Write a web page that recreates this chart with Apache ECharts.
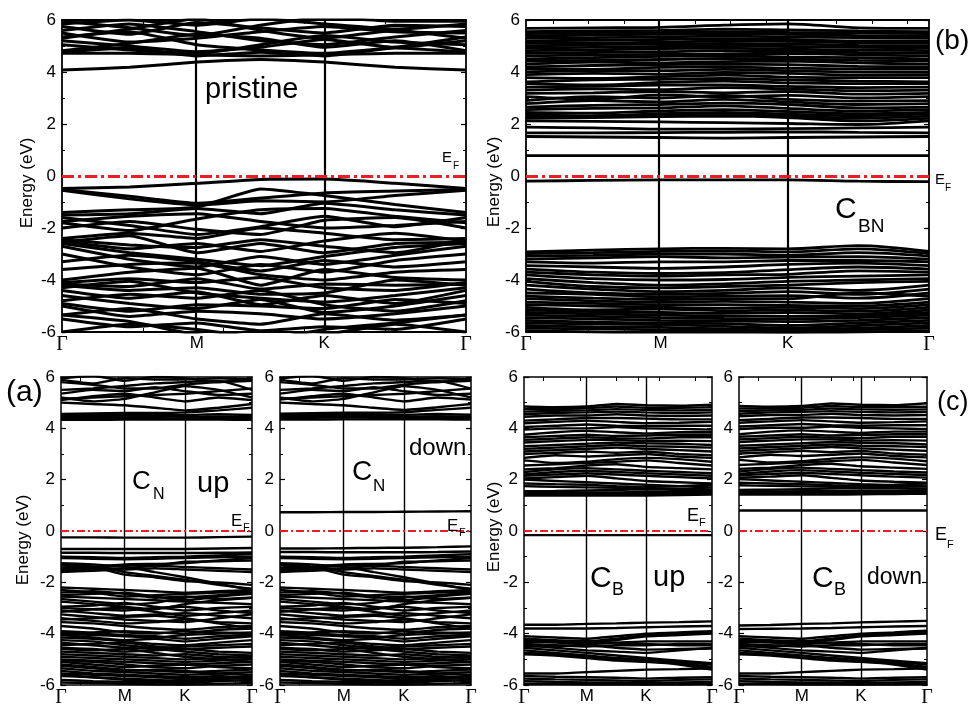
<!DOCTYPE html>
<html><head><meta charset="utf-8">
<script src="https://cdn.jsdelivr.net/npm/echarts@6/dist/echarts.min.js"></script>
<style>html,body{margin:0;padding:0;background:#fff}#c{width:971px;height:708px}</style>
</head><body><div id="c"></div>
<script>
// k-path sample positions: Γ, mid, M, mid, K, mid, Γ
const kPath = [0, 0.167, 0.334, 0.4915, 0.649, 0.8245, 1];
const kTickPos = [0, 0.334, 0.649, 1];
const kTickLabels = ['Γ', 'M', 'K', 'Γ'];
const energyTicks = [-6, -4, -2, 0, 2, 4, 6];
const fermiLevel = 0;

const bandsPristine = [
  [4.08, 4.18, 4.38, 4.48, 4.38, 4.18, 4.08],
  [4.72, 4.72, 4.66, 4.62, 4.66, 4.72, 4.72],
  [4.76, 4.92, 4.62, 4.76, 4.62, 4.92, 4.76],
  [5.20, 5.00, 4.78, 4.95, 5.25, 4.95, 5.20],
  [5.35, 5.55, 5.05, 4.85, 4.72, 4.95, 5.35],
  [5.50, 5.15, 5.30, 5.55, 5.75, 5.55, 5.50],
  [5.60, 5.85, 5.55, 5.20, 5.05, 5.35, 5.60],
  [5.75, 5.45, 5.90, 5.70, 5.50, 5.80, 5.75],
  [5.85, 6.00, 5.80, 6.05, 5.85, 5.65, 5.85],
  [5.95, 5.70, 5.40, 5.80, 6.10, 5.95, 5.95],
  [5.30, 5.65, 6.05, 5.60, 5.30, 5.60, 5.30],
  [4.82, 5.10, 5.45, 5.30, 4.95, 5.20, 4.82],
  [5.05, 4.85, 4.70, 5.05, 5.40, 5.15, 5.05],
  [-0.48, -0.42, -0.28, -0.13, -0.12, -0.28, -0.48],
  [-0.52, -0.78, -1.05, -0.85, -0.65, -0.58, -0.52],
  [-0.55, -0.88, -1.12, -0.95, -1.00, -0.75, -0.55],
  [-1.40, -1.30, -1.20, -0.50, -0.75, -1.10, -1.40],
  [-1.50, -1.45, -1.25, -1.45, -1.05, -1.30, -1.50],
  [-1.75, -1.55, -1.45, -1.75, -2.00, -1.90, -1.75],
  [-1.80, -2.10, -1.65, -1.30, -1.25, -1.55, -1.80],
  [-2.00, -1.75, -2.05, -2.25, -1.70, -1.60, -2.00],
  [-1.60, -1.90, -2.25, -1.95, -1.55, -1.95, -1.60],
  [-2.40, -2.20, -2.40, -2.00, -2.20, -2.45, -2.40],
  [-2.50, -2.80, -2.60, -2.90, -2.50, -2.20, -2.50],
  [-2.55, -2.30, -2.95, -2.60, -2.95, -2.60, -2.55],
  [-2.60, -2.95, -3.20, -3.45, -3.10, -2.75, -2.60],
  [-2.70, -3.20, -3.50, -3.10, -3.40, -3.05, -2.70],
  [-2.45, -2.65, -2.75, -2.45, -2.70, -2.95, -2.45],
  [-3.00, -3.50, -3.80, -3.40, -3.70, -3.25, -3.00],
  [-3.30, -3.05, -3.30, -3.65, -3.25, -3.50, -3.30],
  [-3.60, -3.40, -3.35, -3.80, -4.00, -3.70, -3.60],
  [-4.00, -3.70, -3.55, -4.20, -3.60, -3.90, -4.00],
  [-4.10, -3.95, -4.10, -3.90, -4.30, -4.40, -4.10],
  [-4.15, -4.25, -3.95, -4.35, -4.15, -4.20, -4.15],
  [-4.20, -4.40, -4.30, -4.55, -4.50, -4.00, -4.20],
  [-4.30, -4.05, -4.50, -4.70, -4.85, -4.60, -4.30],
  [-4.40, -4.70, -4.45, -4.95, -4.60, -4.90, -4.40],
  [-4.80, -4.55, -4.70, -4.40, -4.95, -5.20, -4.80],
  [-4.90, -5.20, -4.95, -5.00, -5.10, -4.75, -4.90],
  [-4.60, -4.90, -5.10, -4.75, -5.25, -5.00, -4.60],
  [-5.00, -5.40, -5.20, -5.30, -5.50, -5.30, -5.00],
  [-5.35, -5.10, -5.50, -5.70, -5.30, -5.55, -5.35],
  [-5.50, -5.80, -5.65, -5.95, -5.80, -5.90, -5.50],
  [-6.00, -5.70, -5.90, -6.20, -6.10, -5.70, -6.00],
  [-5.35, -5.60, -6.10, -6.30, -5.90, -5.65, -5.35]
];

const bandsCBN = [
  [0.78, 0.78, 0.78, 0.78, 0.78, 0.78, 0.78],
  [1.52, 1.50, 1.48, 1.46, 1.48, 1.50, 1.52],
  [1.66, 1.66, 1.67, 1.68, 1.70, 1.68, 1.66],
  [1.88, 1.85, 1.80, 1.80, 1.82, 1.85, 1.88],
  [2.12, 2.10, 2.08, 2.05, 2.02, 1.98, 2.12],
  [2.22, 2.25, 2.28, 2.30, 2.25, 2.12, 2.22],
  [2.30, 2.32, 2.35, 2.38, 2.30, 2.22, 2.30],
  [2.38, 2.30, 2.40, 2.45, 2.38, 2.32, 2.38],
  [2.45, 2.42, 2.50, 2.55, 2.48, 2.40, 2.45],
  [2.55, 2.60, 2.62, 2.70, 2.60, 2.50, 2.55],
  [2.65, 2.72, 2.75, 2.80, 2.75, 2.62, 2.65],
  [2.78, 2.90, 2.85, 2.95, 2.85, 2.75, 2.78],
  [2.90, 3.05, 3.00, 3.10, 2.95, 2.88, 2.90],
  [3.05, 2.95, 3.12, 3.05, 3.10, 3.00, 3.05],
  [3.18, 3.20, 3.25, 3.20, 3.25, 3.15, 3.18],
  [3.30, 3.35, 3.32, 3.40, 3.35, 3.28, 3.30],
  [3.42, 3.45, 3.50, 3.50, 3.45, 3.40, 3.42],
  [3.55, 3.50, 3.60, 3.65, 3.58, 3.55, 3.55],
  [3.62, 3.70, 3.72, 3.75, 3.70, 3.65, 3.62],
  [3.78, 3.75, 3.82, 3.88, 3.80, 3.78, 3.78],
  [3.90, 3.95, 3.92, 3.98, 3.95, 3.88, 3.90],
  [4.00, 4.05, 4.05, 4.10, 4.05, 4.00, 4.00],
  [4.12, 4.10, 4.18, 4.20, 4.15, 4.12, 4.12],
  [4.20, 4.25, 4.28, 4.30, 4.28, 4.22, 4.20],
  [4.30, 4.38, 4.35, 4.40, 4.42, 4.35, 4.30],
  [4.42, 4.45, 4.48, 4.52, 4.50, 4.45, 4.42],
  [4.50, 4.55, 4.60, 4.62, 4.58, 4.55, 4.50],
  [4.62, 4.65, 4.68, 4.70, 4.72, 4.66, 4.62],
  [4.72, 4.75, 4.78, 4.82, 4.80, 4.75, 4.72],
  [4.82, 4.85, 4.90, 4.92, 4.88, 4.85, 4.82],
  [4.92, 4.95, 4.98, 5.00, 4.98, 4.95, 4.92],
  [5.00, 5.05, 5.08, 5.10, 5.08, 5.02, 5.00],
  [5.10, 5.12, 5.15, 5.20, 5.18, 5.12, 5.10],
  [5.20, 5.22, 5.25, 5.28, 5.25, 5.20, 5.20],
  [5.30, 5.32, 5.35, 5.38, 5.35, 5.32, 5.30],
  [5.38, 5.42, 5.45, 5.48, 5.45, 5.40, 5.38],
  [5.48, 5.50, 5.52, 5.55, 5.52, 5.50, 5.48],
  [5.55, 5.58, 5.60, 5.65, 5.62, 5.58, 5.55],
  [5.68, 5.70, 5.72, 5.80, 5.85, 5.70, 5.68],
  [-0.20, -0.17, -0.15, -0.15, -0.15, -0.20, -0.22],
  [-2.92, -2.85, -2.80, -2.78, -2.80, -2.68, -2.90],
  [-2.98, -2.95, -2.90, -2.88, -2.92, -2.80, -2.98],
  [-3.08, -3.05, -3.00, -3.00, -3.05, -2.95, -3.08],
  [-3.20, -3.15, -3.10, -3.15, -3.12, -3.10, -3.20],
  [-3.30, -3.35, -3.30, -3.30, -3.25, -3.25, -3.30],
  [-3.45, -3.50, -3.55, -3.50, -3.40, -3.35, -3.45],
  [-3.58, -3.70, -3.75, -3.72, -3.60, -3.50, -3.58],
  [-3.70, -3.80, -3.85, -3.80, -3.78, -3.65, -3.70],
  [-3.80, -3.95, -4.00, -3.98, -3.90, -3.85, -3.80],
  [-3.95, -4.10, -4.20, -4.15, -4.05, -4.00, -3.95],
  [-4.05, -4.25, -4.30, -4.25, -4.20, -4.10, -4.05],
  [-4.20, -4.35, -4.45, -4.40, -4.30, -4.40, -4.20],
  [-4.35, -4.50, -4.55, -4.52, -4.45, -4.55, -4.35],
  [-4.50, -4.55, -4.65, -4.62, -4.60, -4.70, -4.50],
  [-4.62, -4.70, -4.75, -4.72, -4.72, -4.50, -4.62],
  [-4.72, -4.80, -4.85, -4.82, -4.85, -4.90, -4.72],
  [-4.85, -4.90, -4.95, -4.95, -4.98, -5.00, -4.85],
  [-4.95, -5.00, -5.05, -5.08, -5.05, -5.10, -4.95],
  [-5.05, -5.15, -5.12, -5.18, -5.15, -5.20, -5.05],
  [-5.15, -5.22, -5.25, -5.28, -5.25, -5.30, -5.15],
  [-5.25, -5.30, -5.35, -5.38, -5.40, -5.38, -5.25],
  [-5.35, -5.40, -5.45, -5.48, -5.50, -5.45, -5.35],
  [-5.45, -5.50, -5.55, -5.58, -5.60, -5.55, -5.45],
  [-5.55, -5.62, -5.65, -5.68, -5.75, -5.65, -5.55],
  [-5.65, -5.70, -5.72, -5.78, -5.85, -5.75, -5.65],
  [-5.75, -5.80, -5.82, -5.88, -5.92, -5.85, -5.75],
  [-5.85, -5.88, -5.92, -5.95, -6.00, -5.92, -5.85],
  [-5.95, -6.00, -6.05, -6.05, -6.05, -6.00, -5.95]
];

const bandsCNup = [
  [4.33, 4.33, 4.34, 4.34, 4.35, 4.34, 4.33],
  [4.38, 4.40, 4.42, 4.40, 4.38, 4.40, 4.38],
  [4.44, 4.46, 4.50, 4.47, 4.45, 4.46, 4.44],
  [4.50, 4.52, 4.55, 4.53, 4.52, 4.55, 4.52],
  [4.56, 4.58, 4.60, 4.60, 4.62, 4.70, 4.80],
  [5.00, 4.95, 4.90, 4.80, 4.70, 4.80, 4.95],
  [5.10, 5.25, 5.35, 5.20, 5.05, 5.20, 5.10],
  [5.20, 5.05, 5.15, 5.40, 5.65, 5.50, 5.20],
  [5.35, 5.50, 5.45, 5.60, 5.45, 5.30, 5.35],
  [5.50, 5.55, 5.65, 5.75, 5.80, 5.85, 5.50],
  [5.80, 5.70, 5.55, 5.55, 5.70, 5.80, 5.85],
  [5.90, 5.75, 5.95, 5.90, 5.90, 5.95, 5.90],
  [5.95, 6.05, 5.85, 6.00, 5.95, 5.80, 5.95],
  [5.15, 5.20, 5.25, 5.30, 5.35, 5.45, 5.55],
  [-0.25, -0.25, -0.26, -0.26, -0.26, -0.24, -0.22],
  [-0.70, -0.70, -0.70, -0.70, -0.70, -0.68, -0.66],
  [-0.85, -0.85, -0.86, -0.86, -0.86, -0.85, -0.84],
  [-1.00, -1.02, -1.05, -1.02, -1.00, -0.95, -0.90],
  [-1.05, -1.08, -1.10, -1.08, -1.05, -1.02, -1.00],
  [-1.25, -1.30, -1.40, -1.60, -1.80, -2.05, -2.30],
  [-1.30, -1.38, -1.60, -1.75, -1.90, -2.10, -2.25],
  [-1.35, -1.40, -1.70, -1.80, -1.95, -2.00, -2.10],
  [-1.45, -1.40, -1.30, -1.28, -1.25, -1.15, -1.05],
  [-1.50, -1.45, -1.35, -1.35, -1.40, -1.45, -1.50],
  [-1.55, -1.50, -1.45, -1.35, -1.20, -1.18, -1.15],
  [-1.60, -1.55, -1.50, -1.45, -1.50, -1.55, -1.60],
  [-2.20, -2.25, -2.30, -2.35, -2.40, -2.35, -2.30],
  [-2.30, -2.40, -2.55, -2.50, -2.45, -2.40, -2.35],
  [-2.40, -2.35, -2.45, -2.60, -2.55, -2.65, -2.60],
  [-2.50, -2.45, -2.40, -2.55, -2.70, -2.55, -2.45],
  [-2.55, -2.60, -2.65, -2.70, -2.75, -2.80, -2.85],
  [-2.65, -2.75, -2.85, -2.80, -2.60, -2.50, -2.40],
  [-2.75, -2.85, -2.95, -3.05, -2.85, -2.70, -2.60],
  [-2.95, -2.90, -2.80, -2.95, -3.10, -3.00, -2.95],
  [-3.00, -3.05, -3.10, -3.00, -2.95, -3.10, -3.20],
  [-3.10, -3.20, -3.30, -3.25, -3.20, -3.30, -3.40],
  [-3.15, -3.05, -3.00, -3.15, -3.30, -3.20, -3.10],
  [-3.25, -3.35, -3.45, -3.50, -3.55, -3.40, -3.25],
  [-3.40, -3.50, -3.60, -3.55, -3.45, -3.55, -3.60],
  [-3.45, -3.40, -3.35, -3.30, -3.40, -3.60, -3.80],
  [-3.55, -3.60, -3.70, -3.80, -3.85, -3.75, -3.70],
  [-3.70, -3.80, -3.95, -4.00, -3.90, -3.95, -4.00],
  [-3.90, -3.95, -3.90, -3.95, -4.00, -3.85, -3.80],
  [-3.95, -4.00, -4.05, -4.10, -4.20, -4.10, -4.05],
  [-4.00, -4.05, -4.10, -4.15, -4.05, -4.00, -3.95],
  [-4.05, -4.15, -4.25, -4.20, -4.30, -4.20, -4.10],
  [-4.15, -4.20, -4.30, -4.40, -4.45, -4.35, -4.25],
  [-4.25, -4.30, -4.45, -4.55, -4.50, -4.45, -4.40],
  [-4.35, -4.45, -4.55, -4.60, -4.70, -4.80, -4.85],
  [-4.45, -4.40, -4.35, -4.50, -4.60, -4.55, -4.50],
  [-4.55, -4.60, -4.70, -4.65, -4.60, -4.70, -4.75],
  [-4.60, -4.65, -4.60, -4.75, -4.90, -5.00, -5.10],
  [-4.70, -4.75, -4.80, -4.85, -4.80, -4.90, -4.95],
  [-4.80, -4.85, -4.90, -4.95, -5.00, -4.95, -4.90],
  [-4.90, -4.95, -5.00, -5.05, -5.10, -5.05, -5.00],
  [-5.00, -5.05, -5.10, -5.15, -5.20, -5.15, -5.10],
  [-5.05, -5.10, -5.20, -5.30, -5.35, -5.25, -5.20],
  [-5.10, -5.20, -5.30, -5.25, -5.20, -5.30, -5.35],
  [-5.20, -5.30, -5.40, -5.45, -5.50, -5.45, -5.40],
  [-5.25, -5.35, -5.45, -5.40, -5.45, -5.55, -5.60],
  [-5.35, -5.45, -5.50, -5.55, -5.60, -5.55, -5.50],
  [-5.45, -5.55, -5.60, -5.65, -5.70, -5.65, -5.75],
  [-5.55, -5.60, -5.65, -5.70, -5.75, -5.70, -5.65],
  [-5.60, -5.70, -5.75, -5.80, -5.85, -5.80, -5.85],
  [-5.65, -5.70, -5.80, -5.85, -5.80, -5.75, -5.70],
  [-5.80, -5.85, -5.88, -5.90, -5.92, -5.85, -5.80],
  [-5.90, -5.92, -5.95, -5.97, -5.98, -5.95, -5.92]
];

const bandsCNdown = [
  [4.34, 4.34, 4.35, 4.35, 4.36, 4.35, 4.34],
  [4.39, 4.41, 4.43, 4.41, 4.39, 4.41, 4.39],
  [4.45, 4.47, 4.50, 4.48, 4.46, 4.47, 4.45],
  [4.51, 4.53, 4.56, 4.54, 4.53, 4.56, 4.53],
  [4.57, 4.59, 4.61, 4.61, 4.63, 4.72, 4.80],
  [5.00, 4.95, 4.90, 4.80, 4.72, 4.82, 4.95],
  [5.12, 5.25, 5.35, 5.20, 5.05, 5.20, 5.12],
  [5.20, 5.05, 5.15, 5.40, 5.65, 5.50, 5.20],
  [5.35, 5.50, 5.45, 5.60, 5.45, 5.30, 5.35],
  [5.50, 5.55, 5.65, 5.75, 5.80, 5.85, 5.55],
  [5.80, 5.70, 5.55, 5.55, 5.70, 5.80, 5.85],
  [5.90, 5.75, 5.95, 5.90, 5.90, 5.95, 5.90],
  [5.95, 6.05, 5.85, 6.00, 5.95, 5.80, 5.95],
  [5.15, 5.20, 5.25, 5.30, 5.35, 5.45, 5.55],
  [0.73, 0.73, 0.74, 0.74, 0.75, 0.76, 0.77],
  [-0.68, -0.68, -0.67, -0.66, -0.65, -0.63, -0.60],
  [-0.82, -0.82, -0.83, -0.83, -0.83, -0.82, -0.80],
  [-1.00, -1.02, -1.05, -1.02, -1.00, -0.95, -0.90],
  [-1.05, -1.08, -1.10, -1.08, -1.05, -1.02, -1.00],
  [-1.25, -1.30, -1.40, -1.60, -1.80, -2.05, -2.30],
  [-1.30, -1.38, -1.60, -1.75, -1.90, -2.10, -2.25],
  [-1.35, -1.40, -1.70, -1.80, -1.95, -2.00, -2.10],
  [-1.45, -1.40, -1.30, -1.28, -1.25, -1.15, -1.05],
  [-1.50, -1.45, -1.35, -1.35, -1.40, -1.45, -1.50],
  [-1.55, -1.50, -1.45, -1.35, -1.20, -1.18, -1.15],
  [-1.60, -1.55, -1.50, -1.45, -1.50, -1.55, -1.60],
  [-2.20, -2.25, -2.30, -2.35, -2.40, -2.35, -2.30],
  [-2.30, -2.40, -2.55, -2.50, -2.45, -2.40, -2.35],
  [-2.40, -2.35, -2.45, -2.60, -2.55, -2.65, -2.60],
  [-2.50, -2.45, -2.40, -2.55, -2.70, -2.55, -2.45],
  [-2.55, -2.60, -2.65, -2.70, -2.75, -2.80, -2.85],
  [-2.65, -2.75, -2.85, -2.80, -2.60, -2.50, -2.40],
  [-2.75, -2.85, -2.95, -3.05, -2.85, -2.70, -2.60],
  [-2.95, -2.90, -2.80, -2.95, -3.10, -3.00, -2.95],
  [-3.00, -3.05, -3.10, -3.00, -2.95, -3.10, -3.20],
  [-3.10, -3.20, -3.30, -3.25, -3.20, -3.30, -3.40],
  [-3.15, -3.05, -3.00, -3.15, -3.30, -3.20, -3.10],
  [-3.25, -3.35, -3.45, -3.50, -3.55, -3.40, -3.25],
  [-3.40, -3.50, -3.60, -3.55, -3.45, -3.55, -3.60],
  [-3.45, -3.40, -3.35, -3.30, -3.40, -3.60, -3.80],
  [-3.55, -3.60, -3.70, -3.80, -3.85, -3.75, -3.70],
  [-3.70, -3.80, -3.95, -4.00, -3.90, -3.95, -4.00],
  [-3.90, -3.95, -3.90, -3.95, -4.00, -3.85, -3.80],
  [-3.95, -4.00, -4.05, -4.10, -4.20, -4.10, -4.05],
  [-4.00, -4.05, -4.10, -4.15, -4.05, -4.00, -3.95],
  [-4.05, -4.15, -4.25, -4.20, -4.30, -4.20, -4.10],
  [-4.15, -4.20, -4.30, -4.40, -4.45, -4.35, -4.25],
  [-4.25, -4.30, -4.45, -4.55, -4.50, -4.45, -4.40],
  [-4.35, -4.45, -4.55, -4.60, -4.70, -4.80, -4.85],
  [-4.45, -4.40, -4.35, -4.50, -4.60, -4.55, -4.50],
  [-4.55, -4.60, -4.70, -4.65, -4.60, -4.70, -4.75],
  [-4.60, -4.65, -4.60, -4.75, -4.90, -5.00, -5.10],
  [-4.70, -4.75, -4.80, -4.85, -4.80, -4.90, -4.95],
  [-4.80, -4.85, -4.90, -4.95, -5.00, -4.95, -4.90],
  [-4.90, -4.95, -5.00, -5.05, -5.10, -5.05, -5.00],
  [-5.00, -5.05, -5.10, -5.15, -5.20, -5.15, -5.10],
  [-5.05, -5.10, -5.20, -5.30, -5.35, -5.25, -5.20],
  [-5.10, -5.20, -5.30, -5.25, -5.20, -5.30, -5.35],
  [-5.20, -5.30, -5.40, -5.45, -5.50, -5.45, -5.40],
  [-5.25, -5.35, -5.45, -5.40, -5.45, -5.55, -5.60],
  [-5.35, -5.45, -5.50, -5.55, -5.60, -5.55, -5.50],
  [-5.45, -5.55, -5.60, -5.65, -5.70, -5.65, -5.75],
  [-5.55, -5.60, -5.65, -5.70, -5.75, -5.70, -5.65],
  [-5.60, -5.70, -5.75, -5.80, -5.85, -5.80, -5.85],
  [-5.65, -5.70, -5.80, -5.85, -5.80, -5.75, -5.70],
  [-5.80, -5.85, -5.88, -5.90, -5.92, -5.85, -5.80],
  [-5.90, -5.92, -5.95, -5.97, -5.98, -5.95, -5.92]
];

const bandsCBup = [
  [1.38, 1.38, 1.38, 1.38, 1.38, 1.40, 1.42],
  [1.42, 1.42, 1.43, 1.43, 1.44, 1.45, 1.48],
  [1.48, 1.48, 1.50, 1.50, 1.52, 1.52, 1.55],
  [1.55, 1.56, 1.58, 1.60, 1.62, 1.60, 1.58],
  [1.75, 1.72, 1.70, 1.68, 1.66, 1.65, 1.62],
  [1.85, 1.82, 1.80, 1.75, 1.72, 1.75, 1.80],
  [2.00, 1.95, 1.90, 1.85, 1.80, 1.75, 1.70],
  [2.05, 2.10, 2.15, 2.05, 1.95, 1.90, 1.85],
  [2.15, 2.20, 2.25, 2.20, 2.15, 2.10, 2.05],
  [2.20, 2.30, 2.35, 2.30, 2.25, 2.20, 2.15],
  [2.30, 2.40, 2.45, 2.40, 2.35, 2.30, 2.25],
  [2.40, 2.45, 2.55, 2.60, 2.50, 2.45, 2.40],
  [2.55, 2.60, 2.65, 2.70, 2.75, 2.65, 2.55],
  [2.75, 2.65, 2.70, 2.80, 2.85, 2.80, 2.70],
  [2.85, 2.95, 2.90, 2.95, 3.00, 2.90, 2.85],
  [3.00, 3.05, 3.10, 3.05, 3.10, 3.00, 2.95],
  [3.10, 3.15, 3.20, 3.25, 3.20, 3.15, 3.10],
  [3.20, 3.25, 3.30, 3.35, 3.30, 3.28, 3.25],
  [3.30, 3.35, 3.40, 3.45, 3.42, 3.40, 3.35],
  [3.45, 3.50, 3.55, 3.55, 3.50, 3.52, 3.50],
  [3.55, 3.60, 3.65, 3.62, 3.60, 3.65, 3.65],
  [3.65, 3.70, 3.75, 3.70, 3.72, 3.75, 3.75],
  [3.75, 3.85, 3.90, 3.85, 3.80, 3.85, 3.85],
  [3.95, 4.00, 4.00, 4.05, 4.00, 3.98, 3.95],
  [4.05, 4.10, 4.15, 4.10, 4.08, 4.10, 4.10],
  [4.20, 4.25, 4.30, 4.25, 4.20, 4.22, 4.25],
  [4.30, 4.35, 4.40, 4.40, 4.38, 4.35, 4.35],
  [4.45, 4.50, 4.50, 4.55, 4.50, 4.48, 4.50],
  [4.55, 4.60, 4.62, 4.65, 4.62, 4.60, 4.62],
  [4.65, 4.68, 4.70, 4.75, 4.72, 4.70, 4.72],
  [4.75, 4.75, 4.78, 4.85, 4.80, 4.80, 4.82],
  [4.85, 4.82, 4.85, 4.95, 4.90, 4.88, 4.92],
  [-0.16, -0.16, -0.16, -0.16, -0.16, -0.16, -0.16],
  [-3.65, -3.65, -3.62, -3.60, -3.57, -3.55, -3.52],
  [-3.80, -3.80, -3.80, -3.78, -3.75, -3.72, -3.70],
  [-4.10, -4.15, -4.20, -4.10, -4.00, -3.95, -3.90],
  [-4.20, -4.25, -4.30, -4.20, -4.05, -4.00, -3.95],
  [-4.25, -4.30, -4.35, -4.25, -4.10, -4.05, -4.00],
  [-4.30, -4.35, -4.40, -4.35, -4.30, -4.30, -4.30],
  [-4.35, -4.30, -4.28, -4.35, -4.40, -4.45, -4.45],
  [-4.40, -4.45, -4.50, -4.45, -4.45, -4.40, -4.40],
  [-4.45, -4.55, -4.65, -4.70, -4.75, -4.65, -4.55],
  [-4.50, -4.48, -4.45, -4.55, -4.62, -4.60, -4.58],
  [-4.55, -4.65, -4.75, -4.85, -4.95, -5.05, -5.15],
  [-4.65, -4.75, -4.85, -4.95, -5.00, -5.10, -5.20],
  [-4.75, -4.80, -4.90, -5.00, -5.05, -5.15, -5.30],
  [-4.80, -4.85, -4.95, -5.05, -5.10, -5.20, -5.40],
  [-5.55, -5.55, -5.50, -5.45, -5.40, -5.38, -5.35],
  [-5.65, -5.68, -5.70, -5.72, -5.75, -5.72, -5.70],
  [-5.75, -5.78, -5.80, -5.82, -5.85, -5.80, -5.78],
  [-5.85, -5.88, -5.90, -5.90, -5.92, -5.90, -5.88],
  [-5.95, -5.95, -5.97, -5.97, -5.98, -5.97, -5.95]
];

const bandsCBdown = [
  [0.80, 0.80, 0.80, 0.80, 0.80, 0.80, 0.80],
  [1.42, 1.42, 1.42, 1.42, 1.43, 1.44, 1.45],
  [1.47, 1.47, 1.48, 1.48, 1.49, 1.50, 1.52],
  [1.53, 1.53, 1.55, 1.55, 1.57, 1.57, 1.60],
  [1.60, 1.61, 1.63, 1.65, 1.67, 1.66, 1.65],
  [1.78, 1.76, 1.74, 1.72, 1.70, 1.72, 1.74],
  [1.88, 1.85, 1.82, 1.78, 1.76, 1.80, 1.85],
  [2.02, 1.97, 1.92, 1.87, 1.82, 1.78, 1.74],
  [2.08, 2.12, 2.17, 2.07, 1.97, 1.92, 1.88],
  [2.17, 2.22, 2.27, 2.22, 2.17, 2.12, 2.08],
  [2.22, 2.32, 2.37, 2.32, 2.27, 2.22, 2.18],
  [2.32, 2.42, 2.47, 2.42, 2.37, 2.32, 2.28],
  [2.42, 2.47, 2.57, 2.62, 2.52, 2.47, 2.42],
  [2.57, 2.62, 2.67, 2.72, 2.77, 2.67, 2.57],
  [2.77, 2.67, 2.72, 2.82, 2.87, 2.82, 2.72],
  [2.87, 2.97, 2.92, 2.97, 3.02, 2.92, 2.87],
  [3.02, 3.07, 3.12, 3.07, 3.12, 3.02, 2.97],
  [3.12, 3.17, 3.22, 3.27, 3.22, 3.17, 3.12],
  [3.22, 3.27, 3.32, 3.37, 3.32, 3.30, 3.27],
  [3.32, 3.37, 3.42, 3.47, 3.44, 3.42, 3.37],
  [3.47, 3.52, 3.57, 3.57, 3.52, 3.54, 3.52],
  [3.57, 3.62, 3.67, 3.64, 3.62, 3.67, 3.67],
  [3.67, 3.72, 3.77, 3.72, 3.74, 3.77, 3.77],
  [3.77, 3.87, 3.92, 3.87, 3.82, 3.87, 3.87],
  [3.97, 4.02, 4.02, 4.07, 4.02, 4.00, 3.97],
  [4.07, 4.12, 4.17, 4.12, 4.10, 4.12, 4.12],
  [4.22, 4.27, 4.32, 4.27, 4.22, 4.24, 4.27],
  [4.32, 4.37, 4.42, 4.42, 4.40, 4.37, 4.37],
  [4.47, 4.52, 4.52, 4.57, 4.52, 4.50, 4.52],
  [4.57, 4.62, 4.64, 4.67, 4.64, 4.62, 4.64],
  [4.67, 4.70, 4.72, 4.77, 4.74, 4.72, 4.74],
  [4.77, 4.77, 4.80, 4.87, 4.82, 4.82, 4.84],
  [4.87, 4.84, 4.87, 4.97, 4.92, 4.90, 4.98],
  [-3.68, -3.66, -3.62, -3.60, -3.56, -3.53, -3.50],
  [-3.82, -3.81, -3.80, -3.78, -3.75, -3.72, -3.70],
  [-4.10, -4.15, -4.20, -4.10, -4.00, -3.95, -3.88],
  [-4.20, -4.25, -4.30, -4.20, -4.05, -4.00, -3.94],
  [-4.25, -4.30, -4.35, -4.25, -4.10, -4.05, -4.00],
  [-4.30, -4.35, -4.40, -4.35, -4.30, -4.30, -4.30],
  [-4.35, -4.30, -4.28, -4.35, -4.40, -4.45, -4.45],
  [-4.40, -4.45, -4.50, -4.45, -4.45, -4.40, -4.40],
  [-4.45, -4.55, -4.65, -4.70, -4.75, -4.65, -4.55],
  [-4.50, -4.48, -4.45, -4.55, -4.62, -4.60, -4.58],
  [-4.55, -4.65, -4.75, -4.85, -4.95, -5.05, -5.15],
  [-4.65, -4.75, -4.85, -4.95, -5.00, -5.10, -5.20],
  [-4.75, -4.80, -4.90, -5.00, -5.05, -5.15, -5.30],
  [-4.80, -4.85, -4.95, -5.05, -5.10, -5.20, -5.40],
  [-5.55, -5.55, -5.50, -5.45, -5.40, -5.38, -5.35],
  [-5.65, -5.68, -5.70, -5.72, -5.75, -5.72, -5.70],
  [-5.75, -5.78, -5.80, -5.82, -5.85, -5.80, -5.78],
  [-5.85, -5.88, -5.90, -5.90, -5.92, -5.90, -5.88],
  [-5.95, -5.95, -5.97, -5.97, -5.98, -5.97, -5.95]
];

// extra axis tick positions along the k-path (as in original frame)
const kMinorTop = [0.2, 0.4, 0.6, 0.8];
const kMinorCBN = [0.067, 0.155, 0.243, 0.419, 0.507, 0.595, 0.771, 0.859, 0.947];
const kMinorSmall = [0.1, 0.3, 0.49, 0.61, 0.72, 0.91];

const FONT = '"Liberation Sans", Arial, sans-serif';
const RED = '#ee1d23';

const panels = [
  {bands: bandsPristine, grid: {left: 62, top: 20, width: 404, height: 312}, lw: 3, frame: 1.8, vlw: 2.2, efw: 3, dash: [12, 4, 3, 4], ticks: kMinorTop, smooth: 0.15},
  {bands: bandsCBN, grid: {left: 526, top: 20, width: 403, height: 312}, lw: 2.8, frame: 1.8, vlw: 2.2, efw: 3, dash: [12, 4, 3, 4], ticks: kMinorCBN, smooth: 0.3},
  {bands: bandsCNup, grid: {left: 61, top: 377, width: 191, height: 311}, lw: 2.4, frame: 1.5, vlw: 1.4, efw: 2, dash: [8, 3, 2, 3], ticks: kMinorSmall, smooth: 0.15},
  {bands: bandsCNdown, grid: {left: 280, top: 377, width: 191, height: 311}, lw: 2.4, frame: 1.5, vlw: 1.4, efw: 2, dash: [8, 3, 2, 3], ticks: kMinorSmall, smooth: 0.15},
  {bands: bandsCBup, grid: {left: 524, top: 377, width: 188, height: 311}, lw: 2.4, frame: 1.5, vlw: 1.4, efw: 2, dash: [8, 3, 2, 3], ticks: kMinorSmall, smooth: 0.15},
  {bands: bandsCBdown, grid: {left: 739, top: 377, width: 188, height: 311}, lw: 2.4, frame: 1.5, vlw: 1.4, efw: 2, dash: [8, 3, 2, 3], ticks: kMinorSmall, smooth: 0.15}
];

function kLabel(v) {
  let best = 0, d = 1e9;
  kTickPos.forEach((p, j) => { const dd = Math.abs(p - v); if (dd < d) { d = dd; best = j; } });
  const s = kTickLabels[best];
  return s === 'Γ' ? '{g|Γ}' : '{m|' + s + '}';
}

const grids = [], xAxes = [], yAxes = [], series = [];
panels.forEach((p, i) => {
  grids.push(Object.assign({containLabel: false}, p.grid));
  const axLine = {show: true, onZero: false, lineStyle: {color: '#000', width: p.frame}};
  xAxes.push({
    type: 'value', gridIndex: i, min: 0, max: 1, position: 'bottom',
    axisLine: axLine, splitLine: {show: false},
    axisTick: {show: true, inside: true, length: 4, customValues: p.ticks, lineStyle: {color: '#000', width: 1}},
    axisLabel: {show: true, customValues: kTickPos, formatter: kLabel, margin: 3,
      rich: {g: {fontFamily: '"Liberation Serif", serif', fontSize: 20, color: '#000'},
             m: {fontFamily: FONT, fontSize: 17, color: '#000'}}}
  });
  xAxes.push({
    type: 'value', gridIndex: i, min: 0, max: 1, position: 'top',
    axisLine: axLine, splitLine: {show: false},
    axisTick: {show: true, inside: true, length: 4, customValues: p.ticks, lineStyle: {color: '#000', width: 1}},
    axisLabel: {show: false}
  });
  yAxes.push({
    type: 'value', gridIndex: i, min: -6, max: 6, interval: 2, position: 'left',
    axisLine: axLine, splitLine: {show: false},
    axisTick: {show: true, inside: true, length: 5, lineStyle: {color: '#000', width: 1.2}},
    minorTick: {show: true, splitNumber: 2, length: 3, lineStyle: {color: '#000', width: 1}},
    axisLabel: {show: true, margin: 6, color: '#000', fontSize: 17, fontFamily: FONT,
      customValues: energyTicks, formatter: v => String(v)}
  });
  yAxes.push({
    type: 'value', gridIndex: i, min: -6, max: 6, interval: 2, position: 'right',
    axisLine: axLine, splitLine: {show: false},
    axisTick: {show: true, inside: true, length: 5, lineStyle: {color: '#000', width: 1.2}},
    minorTick: {show: true, splitNumber: 2, length: 3, lineStyle: {color: '#000', width: 1}},
    axisLabel: {show: false}
  });
  p.bands.forEach((b, j) => {
    const s = {
      type: 'line', xAxisIndex: i * 2, yAxisIndex: i * 2,
      data: b.map((e, k) => [kPath[k], e]),
      symbol: 'none', showSymbol: false, smooth: p.smooth, clip: true, silent: true,
      lineStyle: {color: '#000', width: p.lw}, z: 2
    };
    if (j === 0) {
      s.markLine = {
        symbol: ['none', 'none'], silent: true, label: {show: false}, animation: false,
        data: [
          {xAxis: kTickPos[1], lineStyle: {color: '#000', width: p.vlw, type: 'solid'}},
          {xAxis: kTickPos[2], lineStyle: {color: '#000', width: p.vlw, type: 'solid'}},
          {yAxis: fermiLevel, lineStyle: {color: RED, width: p.efw, type: p.dash}}
        ]
      };
    }
    series.push(s);
  });
});

function txt(x, y, text, size, extra) {
  return Object.assign({
    type: 'text', x: x, y: y, z: 100, silent: true,
    style: {text: text, fill: '#000', font: 'normal ' + size + 'px ' + FONT,
      textAlign: 'left', textVerticalAlign: 'middle', align: 'left', verticalAlign: 'middle'}
  }, extra || {});
}
function ylab(x, y) {
  const t = txt(x, y, 'Energy (eV)', 17, {rotation: Math.PI / 2});
  t.style.textAlign = 'center'; t.style.align = 'center';
  return t;
}

const graphics = [
  ylab(27, 183), ylab(494, 182), ylab(23, 540), ylab(494, 527),
  txt(205, 90, 'pristine', 29),
  txt(442, 158, 'E', 15), txt(453, 166, 'F', 10),
  txt(935, 41, '(b)', 28),
  txt(935, 180, 'E', 15), txt(945, 188, 'F', 10),
  txt(835, 210, 'C', 30), txt(858, 227, 'BN', 19),
  txt(6, 393, '(a)', 30),
  txt(132, 482, 'C', 26), txt(153, 495, 'N', 16),
  txt(197, 484, 'up', 29),
  txt(231, 521, 'E', 17), txt(243, 528, 'F', 11),
  txt(352, 472, 'C', 28), txt(373, 486, 'N', 17),
  txt(409, 448, 'down', 24),
  txt(447, 526, 'E', 17), txt(459, 533, 'F', 11),
  txt(687, 516, 'E', 18), txt(699, 523, 'F', 11),
  txt(590, 579, 'C', 30), txt(612, 590, 'B', 18),
  txt(653, 578, 'up', 29),
  txt(937, 403, '(c)', 27),
  txt(935, 535, 'E', 18), txt(947, 545, 'F', 11),
  txt(812, 579, 'C', 30), txt(834, 590, 'B', 18),
  txt(867, 578, 'down', 23)
];

const chart = echarts.init(document.getElementById('c'), null, {renderer: 'canvas'});
chart.setOption({
  animation: false,
  backgroundColor: '#fff',
  grid: grids, xAxis: xAxes, yAxis: yAxes, series: series,
  graphic: graphics
});
</script>
</body></html>
